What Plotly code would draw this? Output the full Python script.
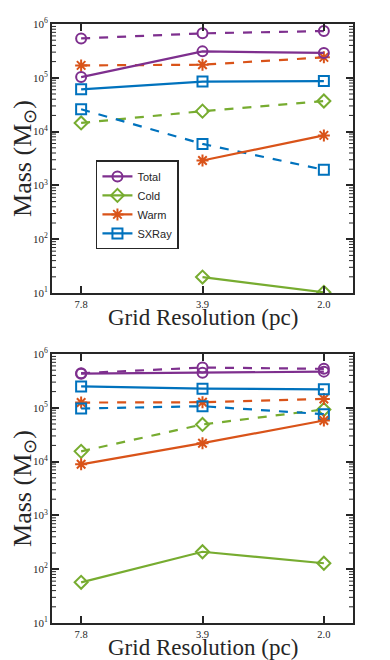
import math
import plotly.graph_objects as go
from plotly.subplots import make_subplots

resolutions = ["7.8", "3.9", "2.0"]
series_names = ["Total", "Cold", "Warm", "SXRay"]
colors = {"Total": "#7E2F8E", "Cold": "#77AC30", "Warm": "#D95319", "SXRay": "#0072BD"}
symbols = {"Total": "circle-open", "Cold": "diamond-open", "Warm": "asterisk-open", "SXRay": "square-open"}

# Top panel
top_solid = {
    "Total": [1.03e5, 3.1e5, 2.9e5],
    "Cold": [None, 19.8, 10.3],
    "Warm": [None, 2.9e3, 8.5e3],
    "SXRay": [6.1e4, 8.5e4, 8.7e4],
}
top_dashed = {
    "Total": [5.4e5, 6.7e5, 7.4e5],
    "Cold": [1.45e4, 2.4e4, 3.7e4],
    "Warm": [1.7e5, 1.75e5, 2.4e5],
    "SXRay": [2.6e4, 5.9e3, 1.95e3],
}
# Bottom panel
bot_solid = {
    "Total": [4.3e5, 4.5e5, 4.7e5],
    "Cold": [57, 211, 129],
    "Warm": [8.9e3, 2.2e4, 5.8e4],
    "SXRay": [2.5e5, 2.27e5, 2.2e5],
}
bot_dashed = {
    "Total": [4.4e5, 5.6e5, 5.3e5],
    "Cold": [1.55e4, 4.9e4, 9.3e4],
    "Warm": [1.25e5, 1.27e5, 1.46e5],
    "SXRay": [9.7e4, 1.07e5, 7.6e4],
}

ytick_vals = [1e1, 1e2, 1e3, 1e4, 1e5, 1e6]
ytick_text = ["10<sup>1</sup>", "10<sup>2</sup>", "10<sup>3</sup>",
              "10<sup>4</sup>", "10<sup>5</sup>", "10<sup>6</sup>"]
minor_vals = [m * d for d in (1e1, 1e2, 1e3, 1e4, 1e5) for m in range(2, 10)]
y_lo, y_hi = 1, 6

fig = make_subplots(rows=2, cols=1, vertical_spacing=0.1018)

serif = "Liberation Serif, Times New Roman, serif"
ink = "#262626"

def add_panel(row, solid, dashed, legend):
    for name in series_names:
        fig.add_trace(go.Scatter(
            x=[0, 1, 2], y=dashed[name], mode="lines+markers", name=name,
            line=dict(color=colors[name], width=2.2, dash="dash"),
            marker=dict(symbol=symbols[name], size=10, color=colors[name], line=dict(width=2)),
            showlegend=False, connectgaps=False,
        ), row=row, col=1)
    for name in series_names:
        fig.add_trace(go.Scatter(
            x=[0, 1, 2], y=solid[name], mode="lines+markers", name=name,
            line=dict(color=colors[name], width=2.2),
            marker=dict(symbol=symbols[name], size=10, color=colors[name], line=dict(width=2)),
            showlegend=legend, connectgaps=False,
        ), row=row, col=1)

add_panel(1, top_solid, top_dashed, True)
add_panel(2, bot_solid, bot_dashed, False)

for r in (1, 2):
    fig.update_xaxes(
        row=r, col=1, range=[-0.24, 2.24], tickvals=[0, 1, 2], ticktext=resolutions,
        ticks="inside", ticklen=7, tickwidth=1.5, tickcolor=ink,
        showline=True, linewidth=2, linecolor=ink, mirror="allticks",
        showgrid=False, zeroline=False, automargin=False,
        tickfont=dict(family=serif, size=10.5, color=ink),
    )
    fig.update_yaxes(
        row=r, col=1, type="log", range=[y_lo, y_hi], tickvals=ytick_vals, ticktext=ytick_text,
        ticks="inside", ticklen=7, tickwidth=1.5, tickcolor=ink,
        showline=True, linewidth=2, linecolor=ink, mirror="allticks",
        showgrid=False, zeroline=False, automargin=False,
        tickfont=dict(family=serif, size=11, color=ink),
        title=dict(text="Mass (M<sub>⊙</sub>)", font=dict(family=serif, size=26, color=ink), standoff=6),
    )

# minor log ticks on both vertical sides of each panel
for xd, yd in (("x domain", "y domain"), ("x2 domain", "y2 domain")):
    for v in minor_vals:
        f = (math.log10(v) - y_lo) / (y_hi - y_lo)
        for side in (0, 1):
            fig.add_shape(
                type="line", xref=xd, yref=yd, xsizemode="pixel", xanchor=side,
                x0=0, x1=(4 if side == 0 else -4), y0=f, y1=f,
                line=dict(color=ink, width=1), layer="above",
            )

for xd, yd in (("x domain", "y domain"), ("x2 domain", "y2 domain")):
    fig.add_annotation(
        text="Grid Resolution (pc)", xref=xd, yref=yd, x=0.5, y=0,
        xanchor="center", yanchor="middle", yshift=-24, showarrow=False, borderpad=0,
        font=dict(family=serif, size=23, color=ink),
    )

fig.update_layout(
    width=382, height=652,
    margin=dict(l=44, r=37, t=16, b=37),
    paper_bgcolor="white", plot_bgcolor="white",
    showlegend=True,
    legend=dict(
        x=0.146, y=0.698, xanchor="left", yanchor="middle",
        bordercolor=ink, borderwidth=1.5, bgcolor="white",
        font=dict(family="Liberation Sans, Arial, sans-serif", size=11, color=ink),
        itemwidth=30, tracegroupgap=0,
    ),
)

fig.write_html("out.html")
